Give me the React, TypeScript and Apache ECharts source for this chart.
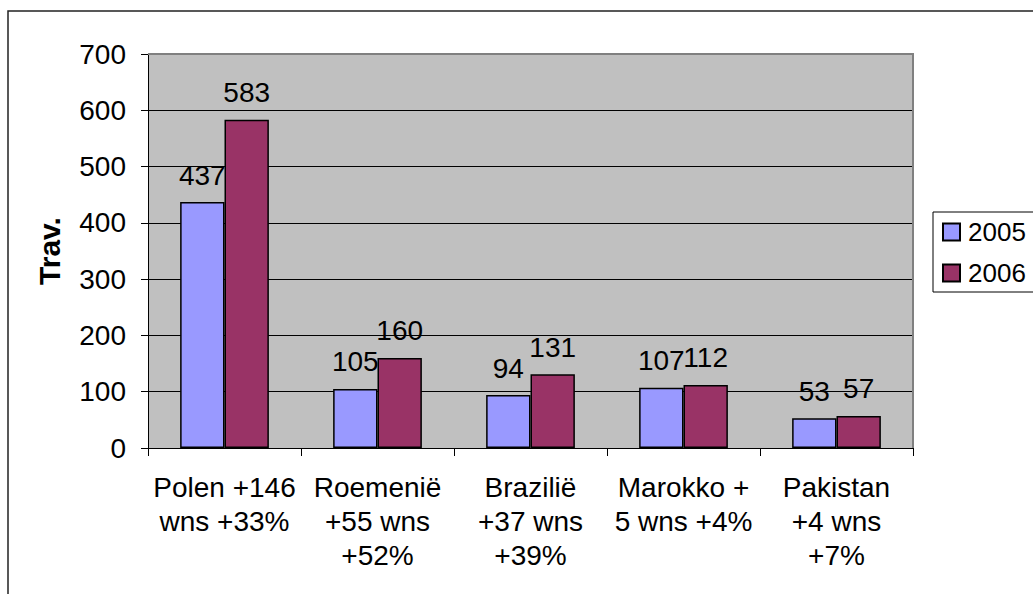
import React, { useEffect, useRef } from "react";
import * as echarts from "echarts";

const categories = [
  "Polen +146\nwns +33%",
  "Roemenië\n+55 wns\n+52%",
  "Brazilië\n+37 wns\n+39%",
  "Marokko +\n5 wns +4%",
  "Pakistan\n+4 wns\n+7%",
];
const values2005 = [437, 105, 94, 107, 53];
const values2006 = [583, 160, 131, 112, 57];
const seriesNames = ["2005", "2006"];
const yTicks = { min: 0, max: 700, interval: 100 };

const FONT = "'Liberation Sans', Arial, sans-serif";

export default function App() {
  const ref = useRef<HTMLDivElement>(null);
  useEffect(() => {
    if (!ref.current) return;
    const chart = echarts.init(ref.current, null, { renderer: "svg" });
    const label = {
      show: true,
      position: "top",
      distance: 13,
      color: "#000",
      fontSize: 28,
      fontFamily: FONT,
    };
    chart.setOption({
      animation: false,
      backgroundColor: "#fff",
      textStyle: { fontFamily: FONT },
      grid: {
        left: 148,
        top: 54,
        right: 120,
        bottom: 146,
        show: true,
        backgroundColor: "#C0C0C0",
        borderWidth: 0,
      },
      legend: {
        orient: "vertical",
        left: 933,
        top: 212,
        padding: [7, 24, 6, 9],
        itemGap: 15,
        itemWidth: 17,
        itemHeight: 17,
        icon: "rect",
        borderColor: "#000",
        borderWidth: 1,
        textStyle: { fontSize: 26, color: "#000", fontFamily: FONT, padding: [0, 0, 0, 3] },
        itemStyle: { borderColor: "#000", borderWidth: 2 },
        data: seriesNames,
      },
      xAxis: {
        type: "category",
        data: categories,
        boundaryGap: true,
        axisLine: { show: true, lineStyle: { color: "#000", width: 1 } },
        axisTick: { show: true, length: 8, alignWithLabel: false, lineStyle: { color: "#000" } },
        axisLabel: {
          interval: 0,
          margin: 22,
          fontSize: 28,
          lineHeight: 34,
          color: "#000",
          fontFamily: FONT,
          align: "center",
        },
        splitLine: { show: false },
      },
      yAxis: {
        type: "value",
        min: yTicks.min,
        max: yTicks.max,
        interval: yTicks.interval,
        name: "Trav.",
        nameLocation: "middle",
        nameRotate: 90,
        nameGap: 84,
        nameTextStyle: { fontSize: 30, fontWeight: "bold", color: "#000", fontFamily: FONT },
        axisLine: { show: true, lineStyle: { color: "#000", width: 1 } },
        axisTick: { show: true, length: 7, lineStyle: { color: "#000" } },
        axisLabel: { margin: 22, fontSize: 28, color: "#000", fontFamily: FONT },
        splitLine: { show: true, lineStyle: { color: "#000", width: 1 } },
      },
      series: [
        {
          name: seriesNames[0],
          type: "bar",
          data: values2005,
          barGap: "0%",
          barCategoryGap: "42%",
          itemStyle: { color: "#9999FF", borderColor: "#000", borderWidth: 1.5 },
          label,
        },
        {
          name: seriesNames[1],
          type: "bar",
          data: values2006,
          barGap: "0%",
          barCategoryGap: "42%",
          itemStyle: { color: "#993366", borderColor: "#000", borderWidth: 1.5 },
          label,
        },
      ],
      graphic: [
        {
          type: "polyline",
          z: 100,
          silent: true,
          shape: { points: [[148, 54], [913, 54], [913, 448]] },
          style: { stroke: "#808080", lineWidth: 2, fill: null },
        },
        {
          type: "rect",
          z: 100,
          silent: true,
          shape: { x: 8, y: 11, width: 1200, height: 800 },
          style: { stroke: "#222", lineWidth: 1.5, fill: null },
        },
      ],
    });
    return () => chart.dispose();
  }, []);
  return (
    <div
      ref={ref}
      style={{ position: "absolute", left: 0, top: 0, width: 1033, height: 594 }}
    />
  );
}
